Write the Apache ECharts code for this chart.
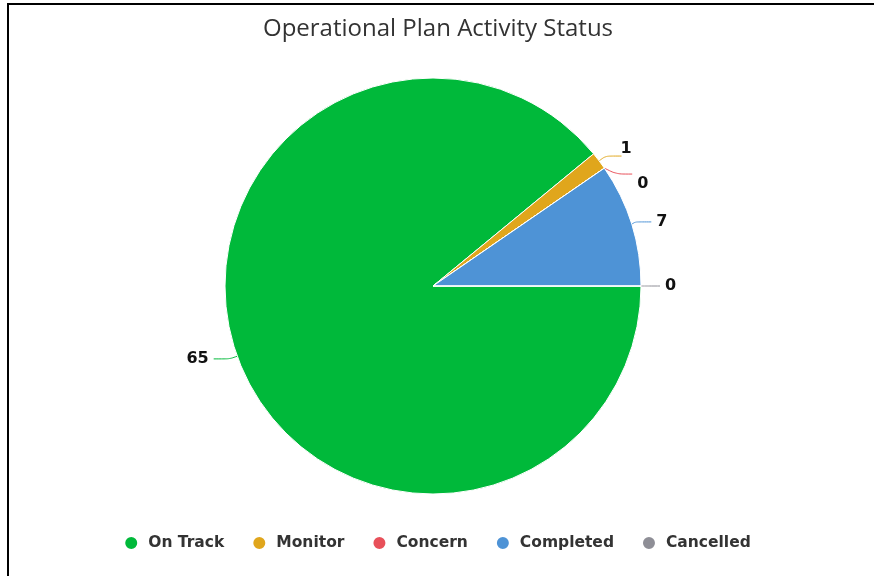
<!DOCTYPE html>
<html><head><meta charset="utf-8">
<script src="https://cdn.jsdelivr.net/npm/echarts@6/dist/echarts.min.js"></script>
<style>
html,body{margin:0;padding:0;background:#fff;}
#frame{position:absolute;left:7px;top:3px;width:867px;height:573px;border-left:2px solid #000;border-top:2px solid #000;box-sizing:border-box;}
#chart{position:absolute;left:0;top:0;width:874px;height:576px;}
</style></head>
<body>
<div id="frame"></div>
<div id="chart"></div>
<script>
const categories = ["On Track", "Monitor", "Concern", "Completed", "Cancelled"];
const values = [65, 1, 0, 7, 0];
const colors = ["#00b93a", "#e0a61c", "#e8505a", "#4e93d6", "#8e8e96"];

const chart = echarts.init(document.getElementById('chart'));
chart.setOption({
  animation: false,
  title: {
    text: "Operational Plan Activity Status",
    left: 433, top: 12, textAlign: 'center',
    textStyle: {fontFamily: "Open Sans", fontWeight: 'normal', fontSize: 24, color: '#333'}
  },
  color: colors,
  legend: {
    bottom: 20, left: 'center',
    icon: 'circle', itemWidth: 14, itemHeight: 14, itemGap: 27,
    textStyle: {fontFamily: "DejaVu Sans", fontWeight: 'bold', fontSize: 15.5, color: '#333', padding: [0, 0, 0, 5]},
    data: categories
  },
  series: [{
    type: 'pie',
    center: [433, 286], radius: 208,
    startAngle: 0, clockwise: true,
    minShowLabelAngle: 0,
    avoidLabelOverlap: true,
    itemStyle: {borderColor: '#fff', borderWidth: 1},
    label: {fontFamily: "DejaVu Sans", fontWeight: 'bold', fontSize: 16, color: '#111', formatter: '{c}'},
    labelLine: {length: 8, length2: 16, smooth: true, lineStyle: {width: 1}},
    labelLayout: function (p) {
      if (p.dataIndex === 1) return {dy: -7, dx: -6};
      if (p.dataIndex === 2) return {dy: 10};
      return {};
    },
    data: categories.map((c, i) => ({name: c, value: values[i]}))
  }]
});
</script>
</body></html>
